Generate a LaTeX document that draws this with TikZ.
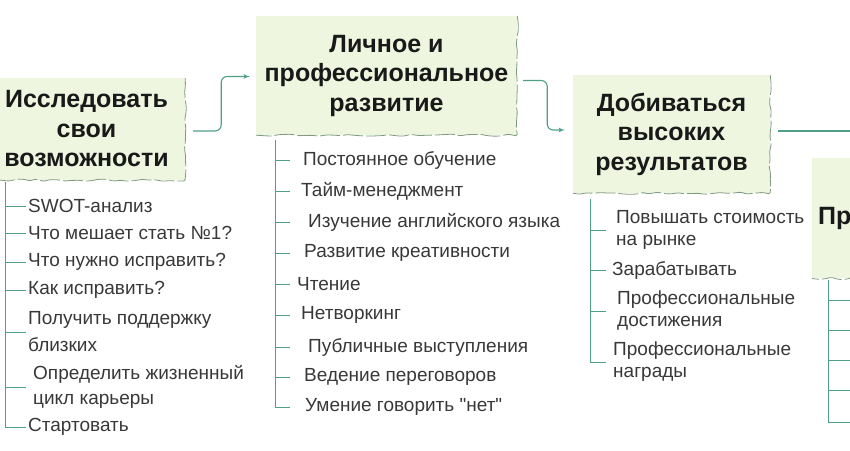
\documentclass[tikz,border=0pt]{standalone}
\usepackage{fontspec}
\setmainfont{Liberation Sans}
\usetikzlibrary{arrows}
\usetikzlibrary{decorations.pathmorphing}
\definecolor{leaf}{HTML}{EEF6DF}
\definecolor{vine}{HTML}{4F9F88}
\definecolor{rimgray}{HTML}{7F9A80}
\tikzset{title/.style = {fill=leaf, align=center, inner sep=0pt,
                         font=\fontsize{25}{29.5}\selectfont\bfseries, text=black!90},
         rim/.style = {draw=rimgray, line width=0.8pt, decorate,
                       decoration={random steps, segment length=7pt, amplitude=1.1pt},
                       rounded corners=1.5pt, dash pattern=on 20pt off 3pt},
         link/.style = {draw=vine, line width=1.1pt, rounded corners=6pt, -latex'},
         branch/.style = {draw=vine, line width=0.8pt},
         item/.style = {anchor=west, align=left, inner xsep=2pt, inner ysep=0pt,
                        text=black!78, font=\fontsize{19}{22}\selectfont}}

\begin{document}
\begin{tikzpicture}[x=1pt, y=-1pt]
      \pgfmathsetseed{7}
      \clip (0,0) rectangle (850,450);
      \useasboundingbox (0,0) rectangle (850,450);
      % the four goals
      \node [title, minimum width=197pt, minimum height=102pt] (t1) at (86.5,129)
            {Исследовать\\свои\\возможности};
      \node [title, minimum width=261pt, minimum height=119pt] (t2) at (386.5,75.5)
            {Личное и\\профессиональное\\развитие};
      \node [title, minimum width=197pt, minimum height=118pt] (t3) at (671.5,134)
            {Добиваться\\высоких\\результатов};
      \node [title, align=left, text width=78pt, minimum height=120pt, inner xsep=6pt,
             anchor=north west] (t4) at (812,158) {Пр};
      \foreach \t in {t1,t2,t3,t4}
        \draw [rim] (\t.north east) -- (\t.south east) -- (\t.south west);
      % links between goals
      \coordinate (edge3) at (856,131);
      \draw [link] ([xshift=8pt, yshift=-2pt]t1.east) -- ++(28,0) |- ([xshift=-6pt, yshift=-1pt]t2.west);
      \draw [link] ([xshift=6pt, yshift=-5pt]t2.east) -- ++(24,0) |- ([xshift=-8pt, yshift=4pt]t3.west);
      \draw [link, -] ([xshift=8pt, yshift=3pt]t3.east) -- (edge3);
      % first list
      \coordinate (s1) at (5,182);
      \node [item] (a1) at (26,206) {SWOT-анализ};
      \node [item] (a2) at (26,233) {Что мешает стать №1?};
      \node [item] (a3) at (26,262) {Что нужно исправить?};
      \node [item] (a4) at (26,290) {Как исправить?};
      \node [item, font=\fontsize{19}{27}\selectfont] (a5) at (26,332) {Получить поддержку\\близких};
      \node [item, font=\fontsize{19}{25}\selectfont, inner xsep=7pt] (a6) at (26,387) {Определить жизненный\\цикл карьеры};
      \node [item] (a7) at (26,427) {Стартовать};
      \foreach \n in {a1,a2,a3,a4,a5,a6,a7}
        \draw [branch] (s1) |- (\n.west);
      % second list
      \coordinate (s2) at (275,140);
      \node [item, inner xsep=13pt] (b1) at (290,160) {Постоянное обучение};
      \node [item, inner xsep=11pt] (b2) at (290,191) {Тайм-менеджмент};
      \node [item, inner xsep=18pt] (b3) at (290,222) {Изучение английского языка};
      \node [item, inner xsep=14pt] (b4) at (290,253) {Развитие креативности};
      \node [item, inner xsep=7pt] (b5) at (290,284) {Чтение};
      \node [item, inner xsep=11pt] (b6) at (290,315) {Нетворкинг};
      \node [item, inner xsep=18pt] (b7) at (290,347) {Публичные выступления};
      \node [item, inner xsep=14pt] (b8) at (290,377) {Ведение переговоров};
      \node [item, inner xsep=15pt] (b9) at (290,407) {Умение говорить \textquotedbl нет\textquotedbl};
      \foreach \n in {b1,b2,b3,b4,b5,b6,b7,b8,b9}
        \draw [branch] (s2) |- (\n.west);
      % third list
      \coordinate (s3) at (590,199);
      \node [item, inner xsep=10pt] (c1) at (606,230) {Повышать стоимость\\на рынке};
      \node [item, inner xsep=6pt] (c2) at (606,270) {Зарабатывать};
      \node [item, inner xsep=11pt] (c3) at (606,311) {Профессиональные\\достижения};
      \node [item, inner xsep=7pt] (c4) at (606,362) {Профессиональные\\награды};
      \foreach \n in {c1,c2,c3,c4}
        \draw [branch] (s3) |- (\n.west);
      % fourth list, cut at the edge
      \coordinate (s4) at (828,280);
      \foreach \y [count=\i] in {300,330,360,390,422} {
        \coordinate (d\i) at (856,\y);
        \draw [branch] (s4) |- (d\i);
      }
\end{tikzpicture}
\end{document}
